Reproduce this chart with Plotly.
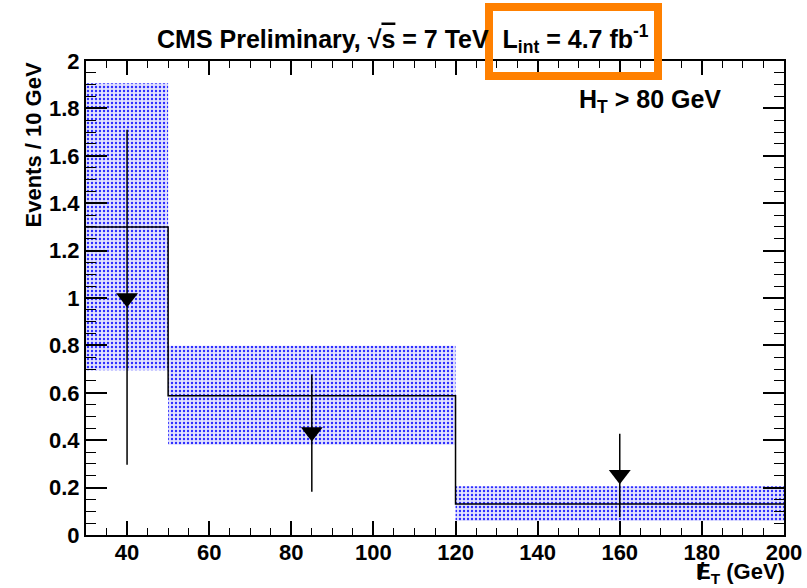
import plotly.graph_objects as go

# Binning and expected background with its uncertainty band
bin_edges = [30, 50, 120, 200]
expected = [1.30, 0.588, 0.131]
band_low = [0.695, 0.381, 0.059]
band_high = [1.906, 0.799, 0.206]

# Observed points (upper-limit style markers) with error bars
obs_x = [40, 85, 160]
obs_y = [1.0, 0.435, 0.254]
obs_err_top = [1.71, 0.677, 0.427]
obs_err_bottom = [0.296, 0.183, 0.075]

x_ticks = [40, 60, 80, 100, 120, 140, 160, 180, 200]
y_ticks = [0, 0.2, 0.4, 0.6, 0.8, 1, 1.2, 1.4, 1.6, 1.8, 2]
y_ticktext = ["0", "0.2", "0.4", "0.6", "0.8", "1", "1.2", "1.4", "1.6", "1.8", "2"]

W, H = 807, 588
ML, MR, MT, MB = 86, 23, 61, 53
PW, PH = W - ML - MR, H - MT - MB

FONT = "Liberation Sans, Arial, sans-serif"


def px(x):
    return (x - ML) / PW


def py(y):
    return (H - MB - y) / PH


centers = [(a + b) / 2 for a, b in zip(bin_edges[:-1], bin_edges[1:])]
widths = [b - a for a, b in zip(bin_edges[:-1], bin_edges[1:])]

fig = go.Figure()

# Uncertainty band drawn as floating bars with a dotted fill
fig.add_trace(go.Bar(
    x=centers,
    y=[h - l for h, l in zip(band_high, band_low)],
    base=band_low,
    width=widths,
    marker=dict(
        color="#ffffff",
        line=dict(width=0),
        pattern=dict(shape=".", fgcolor="#2a2aff", bgcolor="#e2e2ff",
                     size=4, solidity=0.28, fillmode="replace"),
    ),
    showlegend=False,
    hoverinfo="skip",
))

# Expected histogram as a step line
fig.add_trace(go.Scatter(
    x=bin_edges,
    y=expected + [expected[-1]],
    mode="lines",
    line=dict(color="black", width=1.5, shape="hv"),
    showlegend=False,
))

# Observed markers
fig.add_trace(go.Scatter(
    x=obs_x,
    y=obs_y,
    mode="markers",
    marker=dict(symbol="triangle-down", size=19, color="black"),
    error_y=dict(
        type="data",
        symmetric=False,
        array=[t - v for t, v in zip(obs_err_top, obs_y)],
        arrayminus=[v - b for v, b in zip(obs_y, obs_err_bottom)],
        color="black",
        thickness=1.5,
        width=0,
    ),
    showlegend=False,
))

axis_common = dict(
    showline=True, linecolor="black", linewidth=2, mirror="allticks",
    ticks="inside", tickcolor="black", tickwidth=1.5,
    showgrid=False, zeroline=False,
    tickfont=dict(family=FONT, size=22, color="black", weight="bold"),
)

fig.update_xaxes(
    range=[30, 200], tickvals=x_ticks, ticklen=14, ticklabelstandoff=-3,
    minor=dict(ticks="inside", ticklen=7, dtick=5, tick0=30,
               tickcolor="black", tickwidth=1.2, showgrid=False),
    **axis_common,
)
fig.update_yaxes(
    range=[0, 2], tickvals=y_ticks, ticktext=y_ticktext, ticklen=21,
    minor=dict(ticks="inside", ticklen=10, dtick=0.05, tick0=0,
               tickcolor="black", tickwidth=1.2, showgrid=False),
    **axis_common,
)

annotations = [
    dict(text="<b>CMS Preliminary, √<span style='text-decoration:overline'>s</span> = 7 TeV  "
              "L<sub>int</sub> = 4.7 fb<sup>-1</sup></b>",
         x=px(155), y=py(39), xanchor="left", yanchor="middle",
         font=dict(family=FONT, size=25, color="black")),
    dict(text="<b>H<sub>T</sub> > 80 GeV</b>",
         x=px(577), y=py(101), xanchor="left", yanchor="middle",
         font=dict(family=FONT, size=25, color="black")),
    dict(text="<b>Events / 10 GeV</b>",
         x=px(33), y=py(61), xanchor="center", yanchor="top", textangle=-90,
         font=dict(family=FONT, size=22, color="black")),
    dict(text="<b>E<sub>T</sub> (GeV)</b>",
         x=px(694), y=py(573), xanchor="left", yanchor="middle",
         font=dict(family=FONT, size=22, color="black")),
    # slash over the E for missing transverse energy
    dict(text="<b>/</b>",
         x=px(701), y=py(572), xanchor="center", yanchor="middle",
         font=dict(family=FONT, size=23, color="black")),
]
for a in annotations:
    a.update(xref="paper", yref="paper", showarrow=False)

# Highlight box around the luminosity label
shapes = [dict(type="rect", xref="paper", yref="paper",
               x0=px(489), x1=px(658), y0=py(76), y1=py(7),
               line=dict(color="#ff8000", width=8), fillcolor="rgba(0,0,0,0)")]

fig.update_layout(
    width=W, height=H,
    margin=dict(l=ML, r=MR, t=MT, b=MB, autoexpand=False),
    paper_bgcolor="white", plot_bgcolor="white",
    barmode="overlay",
    annotations=annotations,
    shapes=shapes,
)

fig.write_html("out.html")
